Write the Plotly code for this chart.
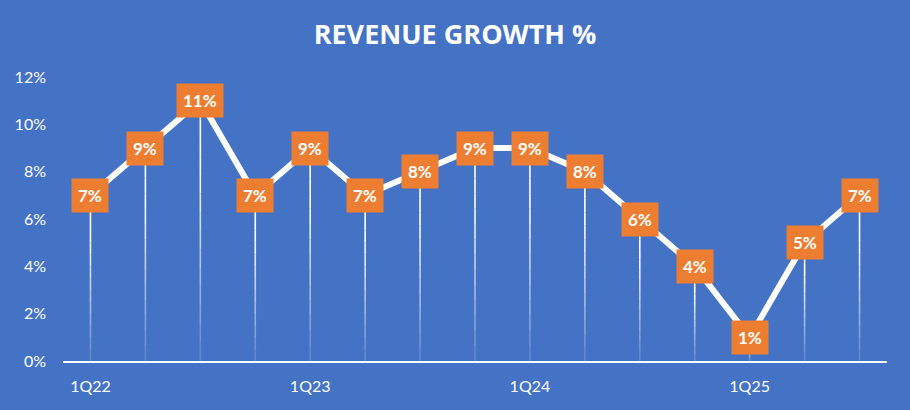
import plotly.graph_objects as go

quarters = ["1Q22", "2Q22", "3Q22", "4Q22", "1Q23", "2Q23", "3Q23", "4Q23",
            "1Q24", "2Q24", "3Q24", "4Q24", "1Q25", "2Q25", "3Q25"]
growth = [7, 9, 11, 7, 9, 7, 8, 9, 9, 8, 6, 4, 1, 5, 7]
tick_quarters = ["1Q22", "1Q23", "1Q24", "1Q25"]
y_ticks = [0, 2, 4, 6, 8, 10, 12]

BG = "#4472C4"
ORANGE = "#ED7D31"
TITLE_FONT = "Open Sans"
FONT = "Lato"

fig = go.Figure()

# drop lines with a fading gradient toward the axis
n_seg = 14
for k in range(n_seg):
    xs, ys = [], []
    for q, v in zip(quarters, growth):
        y0 = v * k / n_seg
        y1 = v * (k + 1) / n_seg
        xs += [q, q, None]
        ys += [y0, y1, None]
    frac = (k + 0.5) / n_seg
    fig.add_trace(go.Scatter(x=xs, y=ys, mode="lines",
                             line=dict(color="white", width=1.6),
                             opacity=min(1.0, 0.12 + frac * 1.2),
                             hoverinfo="skip", showlegend=False))

fig.add_trace(go.Scatter(x=quarters, y=growth, mode="lines",
                         line=dict(color="white", width=6),
                         showlegend=False))

for q, v in zip(quarters, growth):
    fig.add_annotation(x=q, y=v, text=f"<b>{v}%</b>", showarrow=False,
                       bgcolor=ORANGE, borderpad=6,
                       font=dict(family=FONT, size=17, color="white"))

fig.update_layout(
    width=910, height=410,
    paper_bgcolor=BG, plot_bgcolor=BG,
    margin=dict(l=63, r=23, t=77, b=49),
    title=dict(text="<b>REVENUE GROWTH %</b>", x=0.5, xanchor="center",
               y=0.915, yanchor="middle",
               font=dict(family=TITLE_FONT, size=27, color="white")),
    xaxis=dict(type="category", range=[-0.5, 14.5], tickmode="array",
               tickvals=tick_quarters, ticktext=tick_quarters,
               showgrid=False, zeroline=False, showline=True,
               linecolor="white", linewidth=2, ticks="",
               ticklabelstandoff=10,
               tickfont=dict(family=FONT, size=16, color="white")),
    yaxis=dict(range=[0, 12], tickvals=y_ticks,
               ticktext=[f"{t}%" for t in y_ticks],
               showgrid=False, zeroline=False, showline=False, ticks="",
               ticklabelstandoff=16,
               tickfont=dict(family=FONT, size=16, color="white")),
)

fig.write_html("out.html", config={"displayModeBar": False},
               post_script="document.body.style.margin='0';")
